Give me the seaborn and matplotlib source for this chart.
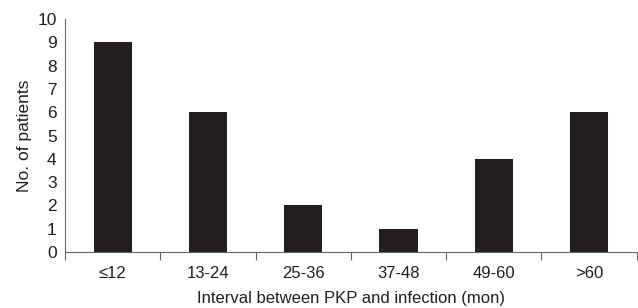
import matplotlib
matplotlib.use("Agg")
import matplotlib.pyplot as plt
import seaborn as sns
import pandas as pd
import numpy as np
from matplotlib.ticker import FixedLocator, NullFormatter, FixedFormatter

categories = ["≤12", "13-24", "25-36", "37-48", "49-60", ">60"]
patients = [9, 6, 2, 1, 4, 6]

sns.set_style("white")
plt.rcParams['font.family'] = ['Liberation Sans', 'DejaVu Sans']

df = pd.DataFrame({"interval": categories, "patients": patients})

fig = plt.figure(figsize=(6.38, 3.08), dpi=100)
ax = fig.add_axes([0.102, 0.182, 0.896, 0.756])
sns.barplot(data=df, x="interval", y="patients", color="#231f20",
            saturation=1, width=0.4, ax=ax, edgecolor="none")

ax.set_xlim(-0.5, len(categories) - 0.5)
ax.set_ylim(0, 10)
ax.set_yticks(range(0, 11))
ax.tick_params(axis='y', labelsize=12.5, length=5, width=0.8, color="#666666", pad=1)

n = len(categories)
ax.xaxis.set_major_locator(FixedLocator(np.arange(-0.5, n, 1.0)))
ax.xaxis.set_major_formatter(NullFormatter())
ax.xaxis.set_minor_locator(FixedLocator(np.arange(n)))
ax.xaxis.set_minor_formatter(FixedFormatter(categories))
ax.tick_params(axis='x', which='major', length=6, width=0.8, color="#666666", bottom=True)
ax.tick_params(axis='x', which='minor', length=0, labelsize=12, pad=10, bottom=True)

for s in ["top", "right"]:
    ax.spines[s].set_visible(False)
for s in ["left", "bottom"]:
    ax.spines[s].set_color("#666666")
    ax.spines[s].set_linewidth(0.8)

ax.set_xlabel("Interval between PKP and infection (mon)", fontsize=12, labelpad=7, color="#231f20")
ax.set_ylabel("No. of patients", fontsize=12.5, labelpad=4, color="#231f20")
for t in ax.get_yticklabels() + ax.get_xticklabels(minor=True):
    t.set_color("#231f20")

fig.savefig("out.png", dpi=100)
